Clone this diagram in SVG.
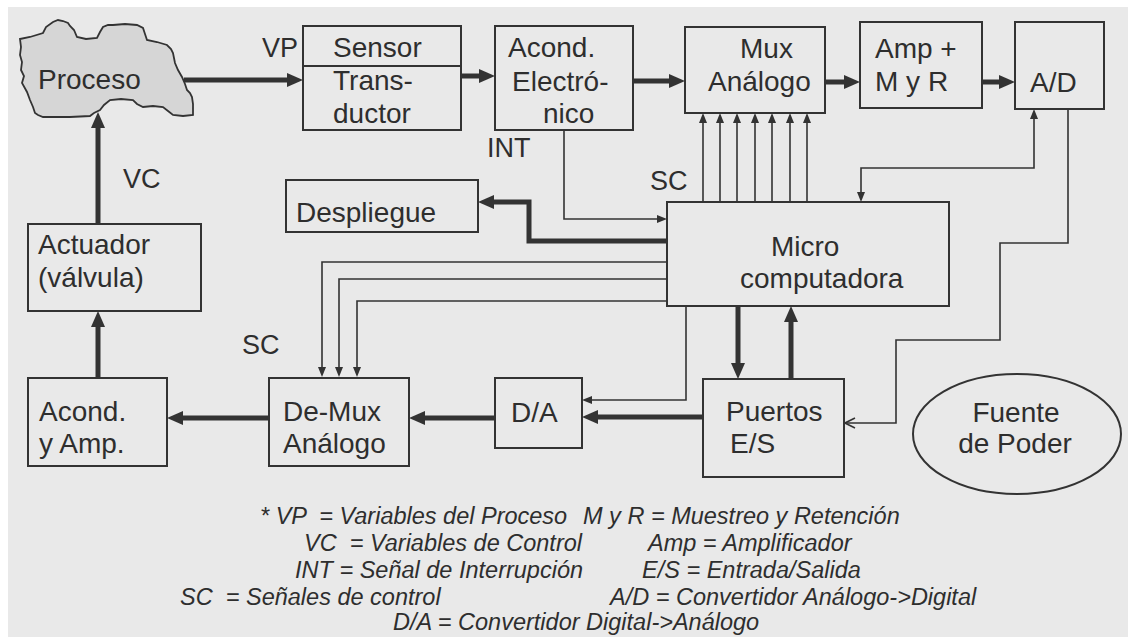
<svg xmlns="http://www.w3.org/2000/svg" width="1128" height="637" viewBox="0 0 1128 637">
<style>
.box{fill:none;stroke:#333;stroke-width:2}
.t{font-family:"Liberation Sans",Arial,sans-serif;font-size:28px;fill:#2e2e2e}
.lbl{font-family:"Liberation Sans",Arial,sans-serif;font-size:27px;fill:#2e2e2e}
.leg{font-family:"Liberation Sans",Arial,sans-serif;font-size:23.5px;font-style:italic;fill:#2e2e2e;white-space:pre}
.thick{fill:none;stroke:#333;stroke-width:5}
.thin{fill:none;stroke:#333;stroke-width:1.6}
</style>
<defs>
<marker id="ah" markerUnits="userSpaceOnUse" markerWidth="16" markerHeight="14" refX="6" refY="7" orient="auto"><path d="M0,0 L16,7 L0,14 z" fill="#333"/></marker>
<marker id="as" markerUnits="userSpaceOnUse" markerWidth="10" markerHeight="8" refX="4" refY="4" orient="auto-start-reverse"><path d="M0,0 L10,4 L0,8 z" fill="#333"/></marker>
<marker id="ao" markerUnits="userSpaceOnUse" markerWidth="12" markerHeight="12" refX="11" refY="6" orient="auto"><path d="M1,1 L11,6 L1,11" fill="none" stroke="#333" stroke-width="1.6"/></marker>
</defs>
<rect x="0" y="0" width="1128" height="637" fill="#e9e9e9"/>
<rect x="0" y="0" width="1128" height="7" fill="#ffffff"/>
<rect x="0" y="0" width="8" height="637" fill="#ffffff"/>

<g id="connectors">
<path class="thick" d="M184,80 H293" marker-end="url(#ah)"/>
<path class="thick" d="M461,76 H485" marker-end="url(#ah)"/>
<path class="thick" d="M633,81 H675" marker-end="url(#ah)"/>
<path class="thick" d="M825,82 H850" marker-end="url(#ah)"/>
<path class="thick" d="M982,82 H1005" marker-end="url(#ah)"/>
<path class="thick" d="M98,224 V122" marker-end="url(#ah)"/>
<path class="thick" d="M98,378 V321" marker-end="url(#ah)"/>
<path class="thick" d="M269,418 H177" marker-end="url(#ah)"/>
<path class="thick" d="M495,418 H419" marker-end="url(#ah)"/>
<path class="thick" d="M703,417 H592" marker-end="url(#ah)"/>
<path class="thick" d="M738,306 V369" marker-end="url(#ah)"/>
<path class="thick" d="M791,379 V316" marker-end="url(#ah)"/>
<path class="thick" d="M667,241 H529 V202 H488" marker-end="url(#ah)"/>
<path class="thin" d="M564,130 V219 H661" marker-end="url(#as)"/>
<path class="thin" d="M703,202 V119" marker-end="url(#as)"/>
<path class="thin" d="M720,202 V119" marker-end="url(#as)"/>
<path class="thin" d="M737,202 V119" marker-end="url(#as)"/>
<path class="thin" d="M755,202 V119" marker-end="url(#as)"/>
<path class="thin" d="M772,202 V119" marker-end="url(#as)"/>
<path class="thin" d="M790,202 V119" marker-end="url(#as)"/>
<path class="thin" d="M807,202 V119" marker-end="url(#as)"/>
<path class="thin" d="M1034,115 V168 H861 V196" marker-start="url(#as)" marker-end="url(#as)"/>
<path class="thin" d="M1068,109 V243 H1000 V340 H896 V423 H845" marker-end="url(#ao)"/>
<path class="thin" d="M667,262 H322 V371" marker-end="url(#as)"/>
<path class="thin" d="M667,279 H339 V371" marker-end="url(#as)"/>
<path class="thin" d="M667,301 H357 V371" marker-end="url(#as)"/>
<path class="thin" d="M686,306 V400 H588" marker-end="url(#as)"/>
</g>

<g id="proceso">
<path d="M20,39 L30,37 L43,33 L46,27 L53,22 L58,20 L63,21 L68,23 L70,26 L74,30 L77,37 L86,39 L97,38 L100,32 L103,27 L108,25 L113,25 L125,24 L137,25 L143,28 L145,34 L147,40 L157,42 L167,45 L171,49 L173,53 L174,58 L175,63 L178,70 L182,77 L185,84 L187,90 L190,93 L192,97 L193,104 L193,115 L183,116 L173,115 L168,111 L163,107 L153,106 L143,107 L137,104 L133,100 L121,99 L110,100 L104,105 L100,110 L94,113 L90,116 L70,117 L43,117 L38,115 L35,113 L33,107 L30,100 L27,92 L22,83 L24,76 L21,70 L22,62 L20,55 L21,47 Z" fill="#d6d6d6" stroke="#333" stroke-width="1.8"/>
<text class="t" x="38" y="89">Proceso</text>
</g>

<g id="sensor">
<rect class="box" x="303" y="26" width="158" height="104"/>
<line x1="303" y1="66" x2="461" y2="66" stroke="#333" stroke-width="2"/>
<text class="t" x="333" y="57">Sensor</text>
<text class="t" x="333" y="90">Trans-</text>
<text class="t" x="333" y="123">ductor</text>
</g>

<g id="acond-electronico">
<rect class="box" x="495" y="26" width="138" height="104"/>
<text class="t" x="508" y="57">Acond.</text>
<text class="t" x="512" y="91">Electró-</text>
<text class="t" x="543" y="123">nico</text>
</g>

<g id="mux">
<rect class="box" x="685" y="27" width="140" height="86"/>
<text class="t" x="740" y="58">Mux</text>
<text class="t" x="708" y="91">Análogo</text>
</g>

<g id="amp">
<rect class="box" x="860" y="22" width="122" height="86"/>
<text class="t" x="875" y="58">Amp +</text>
<text class="t" x="875" y="91">M y R</text>
</g>

<g id="ad">
<rect class="box" x="1015" y="22" width="89" height="87"/>
<text class="t" x="1030" y="92">A/D</text>
</g>

<g id="despliegue">
<rect class="box" x="286" y="180" width="192" height="52"/>
<text class="t" x="296" y="222">Despliegue</text>
</g>

<g id="micro">
<rect class="box" x="667" y="202" width="282" height="104"/>
<text class="t" x="771" y="256">Micro</text>
<text class="t" x="740" y="288">computadora</text>
</g>

<g id="actuador">
<rect class="box" x="28" y="224" width="173" height="87"/>
<text class="t" x="38" y="254">Actuador</text>
<text class="t" x="38" y="287">(válvula)</text>
</g>

<g id="acond-amp">
<rect class="box" x="28" y="378" width="139" height="88"/>
<text class="t" x="39" y="421">Acond.</text>
<text class="t" x="39" y="453">y Amp.</text>
</g>

<g id="demux">
<rect class="box" x="269" y="378" width="140" height="88"/>
<text class="t" x="283" y="421">De-Mux</text>
<text class="t" x="283" y="453">Análogo</text>
</g>

<g id="da">
<rect class="box" x="495" y="378" width="87" height="70"/>
<text class="t" x="511" y="422">D/A</text>
</g>

<g id="puertos">
<rect class="box" x="703" y="379" width="141" height="98"/>
<text class="t" x="726" y="421">Puertos</text>
<text class="t" x="730" y="453">E/S</text>
</g>

<g id="fuente">
<ellipse cx="1017" cy="434" rx="104" ry="60" fill="none" stroke="#333" stroke-width="2"/>
<text class="t" x="1016" y="422" text-anchor="middle">Fuente</text>
<text class="t" x="1015" y="453" text-anchor="middle">de Poder</text>
</g>

<g id="labels">
<text class="lbl" x="262" y="57">VP</text>
<text class="lbl" x="123" y="188">VC</text>
<text class="lbl" x="487" y="157">INT</text>
<text class="lbl" x="650" y="190">SC</text>
<text class="lbl" x="242" y="354">SC</text>
</g>

<g id="legend">
<text class="leg" x="260" y="524">* VP  = Variables del Proceso</text>
<text class="leg" x="583" y="524">M y R = Muestreo y Retención</text>
<text class="leg" x="304" y="551">VC  = Variables de Control</text>
<text class="leg" x="648" y="551">Amp = Amplificador</text>
<text class="leg" x="295" y="578">INT = Señal de Interrupción</text>
<text class="leg" x="642" y="578">E/S = Entrada/Salida</text>
<text class="leg" x="180" y="605">SC  = Señales de control</text>
<text class="leg" x="610" y="605">A/D = Convertidor Análogo-&gt;Digital</text>
<text class="leg" x="393" y="630">D/A = Convertidor Digital-&gt;Análogo</text>
</g>
</svg>
